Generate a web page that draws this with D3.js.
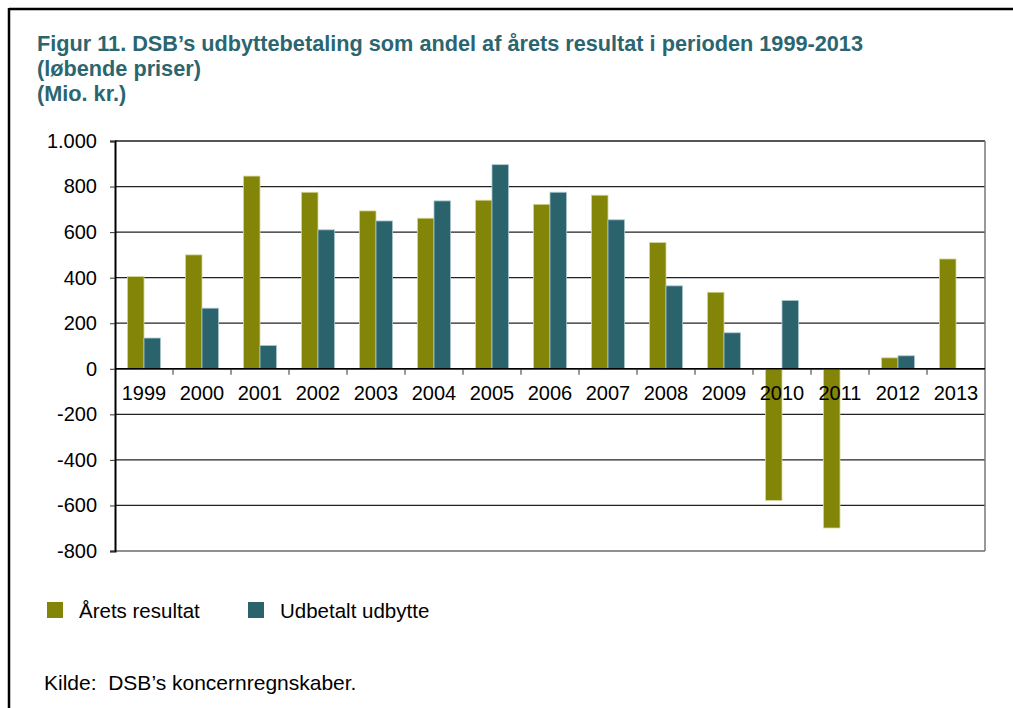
<!DOCTYPE html>
<html>
<head>
<meta charset="utf-8">
<script src="https://cdn.jsdelivr.net/npm/d3@7"></script>
<style>
  body { margin: 0; background: #fff; }
  svg { display: block; font-family: Arial, "Liberation Sans", sans-serif; }
</style>
</head>
<body>
<script>
const aar = ["1999","2000","2001","2002","2003","2004","2005","2006","2007","2008","2009","2010","2011","2012","2013"];
const aretsResultat = [405, 500, 846, 775, 693, 661, 740, 722, 762, 554, 336, -578, -699, 48, 482];
const udbetaltUdbytte = [135, 266, 102, 610, 649, 737, 896, 775, 654, 364, 158, 300, 0, 57, null];
const serier = ["Årets resultat", "Udbetalt udbytte"];
const farver = ["#838508", "#2b636d"];
const kanter = ["#d4d59a", "#a9c6cc"];
const yTicks = [-800, -600, -400, -200, 0, 200, 400, 600, 800, 1000];

const largura = 1013, altura = 708;
const plot = { left: 115, right: 985, top: 141, bottom: 551 };

const svg = d3.select("body").append("svg")
  .attr("width", largura)
  .attr("height", altura);

// moldura
svg.append("line").attr("x1", 9).attr("x2", largura).attr("y1", 9).attr("y2", 9)
  .attr("stroke", "#000").attr("stroke-width", 2.5);
svg.append("line").attr("x1", 9).attr("x2", 9).attr("y1", 8).attr("y2", altura)
  .attr("stroke", "#000").attr("stroke-width", 2.5);

// titulo
const titulo = ["Figur 11. DSB’s udbyttebetaling som andel af årets resultat i perioden 1999-2013",
  "(løbende priser)", "(Mio. kr.)"];
svg.append("g").selectAll("text").data(titulo).join("text")
  .attr("x", 37)
  .attr("y", (d, i) => 51 + i * 25)
  .attr("fill", "#2b6670")
  .attr("font-weight", "bold")
  .attr("font-size", 21.7)
  .text(d => d);

const y = d3.scaleLinear().domain([-800, 1000]).range([plot.bottom, plot.top]);
const x0 = d3.scaleBand().domain(aar).range([plot.left, plot.right])
  .paddingInner(0.43).paddingOuter(0.215);
const x1 = d3.scaleBand().domain(serier).range([0, x0.bandwidth()]);

const fmt = d3.formatLocale({ decimal: ",", thousands: ".", grouping: [3], currency: ["", " kr."], minus: "-" }).format(",d");

// grade
svg.append("g").selectAll("line").data(yTicks).join("line")
  .attr("x1", plot.left).attr("x2", plot.right)
  .attr("y1", d => y(d)).attr("y2", d => y(d))
  .attr("stroke", d => d === 1000 ? "#555" : "#222")
  .attr("stroke-width", d => d === 1000 ? 2 : 1.2);

// borda direita
svg.append("line").attr("x1", plot.right).attr("x2", plot.right)
  .attr("y1", plot.top).attr("y2", plot.bottom)
  .attr("stroke", "#777").attr("stroke-width", 1.5);

// barras
const dados = aar.map((a, i) => ({ aar: a, valores: [aretsResultat[i], udbetaltUdbytte[i]] }));
const grupos = svg.append("g").selectAll("g").data(dados).join("g")
  .attr("transform", d => `translate(${x0(d.aar)},0)`);
grupos.selectAll("rect")
  .data(d => d.valores.map((v, k) => ({ serie: serier[k], k, v })).filter(e => e.v !== null && e.v !== 0))
  .join("rect")
  .attr("x", d => x1(d.serie))
  .attr("width", x1.bandwidth())
  .attr("y", d => y(Math.max(0, d.v)))
  .attr("height", d => Math.abs(y(d.v) - y(0)))
  .attr("fill", d => farver[d.k])
  .attr("stroke", d => kanter[d.k])
  .attr("stroke-width", 0.8);

// eixo y
const eixoY = svg.append("g")
  .attr("transform", `translate(${plot.left},0)`)
  .call(d3.axisLeft(y).tickValues(yTicks).tickFormat(fmt).tickSize(5).tickPadding(13));
eixoY.select(".domain").attr("stroke", "#000").attr("stroke-width", 2);
eixoY.selectAll(".tick line").attr("stroke", "#333");
eixoY.selectAll(".tick text").attr("font-size", 20).attr("fill", "#000")
  .attr("font-family", "Arial, 'Liberation Sans', sans-serif");

// eixo x na linha zero
const limites = aar.map(a => x0(a) - x0.step() * x0.paddingInner() / 2).slice(1);
svg.append("line").attr("x1", plot.left).attr("x2", plot.right)
  .attr("y1", y(0)).attr("y2", y(0)).attr("stroke", "#000").attr("stroke-width", 1.5);
svg.append("g").selectAll("line").data(limites).join("line")
  .attr("x1", d => d).attr("x2", d => d)
  .attr("y1", y(0)).attr("y2", y(0) + 6)
  .attr("stroke", "#333");
svg.append("g").selectAll("text").data(aar).join("text")
  .attr("x", d => x0(d) + x0.bandwidth() / 2)
  .attr("y", y(0) + 31)
  .attr("text-anchor", "middle")
  .attr("font-size", 20)
  .attr("fill", "#000")
  .text(d => d);

// legenda
const legX = [47, 248];
const leg = svg.append("g").selectAll("g").data(serier).join("g")
  .attr("transform", (d, i) => `translate(${legX[i]},602)`);
leg.append("rect").attr("width", 16).attr("height", 16).attr("fill", (d, i) => farver[i]);
leg.append("text").attr("x", 32).attr("y", 16).attr("font-size", 20.5).attr("fill", "#000").text(d => d);

// fonte
svg.append("text").attr("x", 44).attr("y", 690).attr("font-size", 21).attr("fill", "#000")
  .attr("xml:space", "preserve")
  .text("Kilde:  DSB’s koncernregnskaber.");
</script>
</body>
</html>
